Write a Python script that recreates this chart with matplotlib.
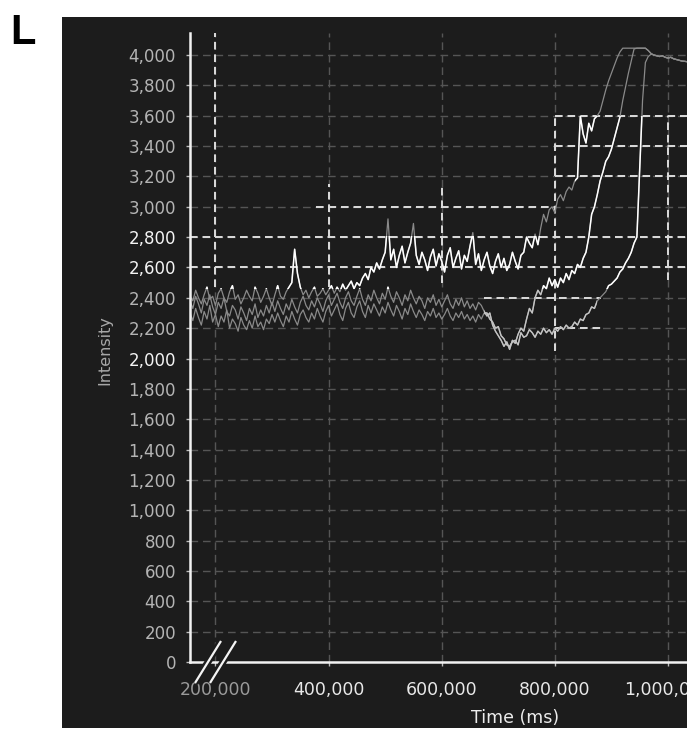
import numpy as np
import matplotlib
matplotlib.use("Agg")
import matplotlib.pyplot as plt
from matplotlib.patches import Rectangle
from matplotlib.lines import Line2D

plt.rcParams["font.family"] = ["DejaVu Sans"]
plt.rcParams["lines.scale_dashes"] = False

# ---------------------------------------------------------------- data
# sample clock of the recording (ms), one sample every 5 s
time_ms = np.arange(155000, 1035001, 5000)

trace_a = [
    2410, 2380, 2450, 2400, 2360, 2420, 2470, 2390, 2410, 2350,
    2430, 2460, 2400, 2370, 2440, 2480, 2390, 2420, 2360, 2400,
    2450, 2410, 2380, 2470, 2430, 2370, 2410, 2460, 2400, 2350,
    2420, 2480, 2410, 2390, 2440, 2470,
    2500, 2720, 2560, 2470,
    2420, 2450, 2400, 2440, 2470, 2410, 2430, 2460, 2420, 2450,
    2480, 2430, 2470, 2440, 2490, 2450, 2480, 2510, 2460, 2500,
    2480, 2530,
    2560, 2520, 2600, 2570, 2630, 2590, 2650, 2700,
    2920,
    2650, 2720, 2600, 2680, 2740, 2630, 2700, 2760, 2890, 2680,
    2620, 2700, 2650, 2580, 2670, 2720, 2610, 2690, 2640, 2570,
    2680, 2730, 2600, 2660, 2710, 2590, 2680, 2640, 2740, 2830,
    2620, 2690, 2580, 2650, 2700, 2610, 2560, 2640, 2690, 2600,
    2660, 2580, 2620, 2700, 2640, 2590, 2680,
    2700, 2800, 2760, 2730, 2820, 2750, 2860, 2950, 2900, 2980,
    3000, 2960, 3050, 3080, 3040, 3100, 3130, 3110, 3170, 3190,
    3600, 3480, 3420, 3550, 3500, 3580, 3600, 3630, 3700, 3770,
    3830, 3880, 3930, 3980, 4020,
    4045, 4045, 4045, 4045, 4045, 4045, 4045, 4045, 4045,
    4030, 4010, 4000, 3995, 3990, 3995, 3985, 3980, 3985, 3975,
    3970, 3965, 3960, 3958, 3955,
]

trace_b = [
    2380, 2330, 2410, 2360, 2300, 2390, 2350, 2420, 2340, 2290,
    2370, 2330, 2400, 2310, 2280, 2350, 2320, 2260, 2340, 2300,
    2250, 2330, 2290, 2360, 2270, 2320, 2280, 2350, 2300, 2370,
    2310, 2380, 2330, 2290, 2360, 2320, 2390, 2340, 2300, 2370,
    2410, 2350, 2320, 2380, 2340, 2400, 2360, 2310, 2380, 2420,
    2350, 2390, 2430, 2370, 2330, 2400, 2440, 2380, 2350, 2410,
    2460, 2390, 2350, 2420, 2380, 2450, 2400, 2360, 2430, 2390,
    2470, 2410, 2370, 2440, 2400, 2350, 2420, 2380, 2450, 2400,
    2360, 2410, 2380, 2330, 2400, 2370, 2420, 2350, 2390, 2340,
    2380, 2420, 2360, 2330, 2390, 2350, 2400, 2340, 2380, 2330,
    2360, 2320, 2370,
    2350, 2310, 2280, 2300, 2220, 2180, 2150, 2120, 2080, 2110,
    2060, 2120, 2100, 2160, 2200, 2180, 2260, 2330, 2300, 2400,
    2450, 2420, 2480, 2460, 2530, 2480, 2520, 2470, 2530, 2500,
    2560, 2520, 2580, 2560, 2620, 2600, 2660, 2700, 2800, 2950,
    3000, 3080, 3170, 3230, 3300, 3330, 3380, 3450, 3520, 3590,
    3700, 3790, 3880, 3960, 4040, 4045, 4045, 4045, 4045,
    4030, 4010, 4000, 3995, 3990, 3995, 3985, 3980, 3985, 3975,
    3970, 3965, 3960, 3958, 3955,
]

trace_c = [
    2300, 2250, 2330, 2270, 2220, 2310, 2260, 2350, 2240, 2290,
    2210, 2280, 2240, 2320, 2200, 2260, 2230, 2180, 2270, 2220,
    2190, 2250, 2200, 2280, 2210, 2240, 2190, 2260, 2230, 2290,
    2240, 2300, 2250, 2210, 2280, 2240, 2310, 2260, 2220, 2290,
    2320, 2270, 2240, 2300, 2260, 2330, 2280, 2240, 2310, 2350,
    2280, 2320, 2360, 2290, 2250, 2330, 2370, 2300, 2270, 2340,
    2380, 2310, 2270, 2350, 2300, 2360, 2320, 2280, 2340, 2300,
    2370, 2320, 2280, 2350, 2310, 2260, 2330, 2290, 2360, 2310,
    2270, 2320, 2290, 2250, 2310, 2280, 2330, 2270, 2300, 2260,
    2290, 2330, 2280, 2250, 2300, 2270, 2310, 2260, 2290, 2250,
    2280, 2240, 2290, 2260, 2300,
    2300, 2260, 2240, 2200, 2210, 2150, 2130, 2090, 2080, 2110,
    2120, 2090, 2170, 2140, 2150, 2190, 2170, 2140, 2180, 2160,
    2200, 2170, 2190, 2160, 2200, 2180, 2210, 2190, 2220, 2200,
    2210, 2240, 2220, 2260, 2250, 2290, 2300, 2340, 2330, 2380,
    2400, 2420, 2440, 2480, 2490, 2510, 2530, 2570, 2590, 2630,
    2660, 2700, 2760, 2800, 3250, 3700, 3950,
    3990, 4005, 4000, 3995, 3990, 3995, 3985, 3980, 3985, 3975,
    3970, 3965, 3960, 3958, 3955,
]

y_ticks = list(range(0, 4001, 200))
x_ticks = [200000, 400000, 600000, 800000, 1000000]
bright_y_labels = [2800, 2600, 2000]

# ---------------------------------------------------------------- figure
W, H = 687, 730
fig = plt.figure(figsize=(W / 100, H / 100), dpi=100)
fig.patch.set_facecolor("white")


def fx(px):
    return px / W


def fy(py):
    return 1 - py / H


BG = "#1c1c1c"
fig.patches.append(Rectangle((fx(62), fy(728)), 1 - fx(62), fy(17) - fy(728),
                             transform=fig.transFigure, facecolor=BG,
                             edgecolor="none", zorder=-10))

ax = fig.add_axes([fx(190), fy(662), fx(687) - fx(190), fy(33) - fy(662)])
ax.set_zorder(1)
ax.set_facecolor(BG)
ax.set_xlim(155000, 1033600)
ax.set_ylim(0, 4145)

DIM_GRID = "#555555"
BRIGHT_GRID = "#dcdcdc"
DASH = (5.5, 3.5)

for y in y_ticks[1:]:
    ax.plot([155000, 1033600], [y, y], color=DIM_GRID, lw=1.0,
            dashes=DASH, zorder=1)
for x in x_ticks:
    ax.plot([x, x], [0, 4145], color=DIM_GRID, lw=1.0, dashes=DASH, zorder=1)

# brighter grid pieces
h_bright = [(2800, 155000, 1033600), (2600, 155000, 1033600),
            (3000, 377000, 800000), (3600, 800000, 1033600),
            (3400, 800000, 1033600), (3200, 800000, 1033600),
            (2400, 675000, 881000), (2200, 800000, 881000)]
v_bright = [(200000, 2470, 4145), (400000, 2470, 3150),
            (600000, 2500, 3150), (800000, 2050, 3600),
            (1000000, 2520, 3600)]
for y, x0, x1 in h_bright:
    ax.plot([x0, x1], [y, y], color=BRIGHT_GRID, lw=1.4, dashes=DASH, zorder=2)
for x, y0, y1 in v_bright:
    ax.plot([x, x], [y0, y1], color=BRIGHT_GRID, lw=1.4, dashes=DASH, zorder=2)

# traces: dim everywhere, brighter inside the highlighted zones
zones = [
    (155000, 1033600, 2460, 2810, "#ffffff", 1.1),
    (836000, 1000000, 2810, 3600, "#ffffff", 1.1),
    (675000, 875000, 1900, 2460, "#c4c4c4", 1.0),
]
for tr in (trace_c, trace_b, trace_a):
    ax.plot(time_ms, tr, color="#8a8a8a", lw=0.9, zorder=3)
    for t0, t1, i0, i1, col, lw in zones:
        (ln,) = ax.plot(time_ms, tr, color=col, lw=lw, zorder=4)
        clip = Rectangle((t0, i0), t1 - t0, i1 - i0, transform=ax.transData,
                         facecolor="none", edgecolor="none")
        ln.set_clip_path(clip)

for s in ("top", "right"):
    ax.spines[s].set_visible(False)
for s in ("left", "bottom"):
    ax.spines[s].set_color("#f2f2f2")
    ax.spines[s].set_linewidth(1.8)
    ax.spines[s].set_zorder(6)

ax.set_yticks(y_ticks)
ax.set_yticklabels([f"{v:,}" for v in y_ticks])
ax.set_xticks(x_ticks)
ax.set_xticklabels([f"{v:,}" for v in x_ticks])
ax.tick_params(axis="y", colors="#bdbdbd", labelsize=12, length=3,
               width=1, pad=7)
ax.tick_params(axis="x", colors="#bdbdbd", labelsize=12.5, length=3,
               width=1, pad=11)
for v, lab in zip(y_ticks, ax.get_yticklabels()):
    lab.set_color("#f4f4f4" if v in bright_y_labels else "#b4b4b4")
for lab in ax.get_xticklabels():
    lab.set_color("#e8e8e8")
ax.get_xticklabels()[0].set_color("#9a9a9a")

fig.text(fx(515), fy(718), "Time (ms)", color="#ececec", fontsize=12.5,
         ha="center", va="center")
fig.text(fx(105), fy(350), "Intensity", color="#a8a8a8", fontsize=11.5,
         rotation=90, ha="center", va="center")
fig.text(fx(10), fy(44), "L", color="black", fontsize=30, fontweight="bold",
         family="Liberation Sans", ha="left", va="baseline")

# axis break marks
for (x0, y0, x1, y1) in [(195, 683, 221, 641), (210, 683, 236, 641)]:
    xs = [fx(x0), fx(x1)]
    ys = [fy(y0), fy(y1)]
    fig.add_artist(Line2D(xs, ys, transform=fig.transFigure, color=BG,
                          lw=5, zorder=10, solid_capstyle="butt"))
    fig.add_artist(Line2D(xs, ys, transform=fig.transFigure, color="#f4f4f4",
                          lw=1.6, zorder=11, solid_capstyle="butt"))

fig.savefig("out.png", dpi=100, facecolor=fig.get_facecolor())
